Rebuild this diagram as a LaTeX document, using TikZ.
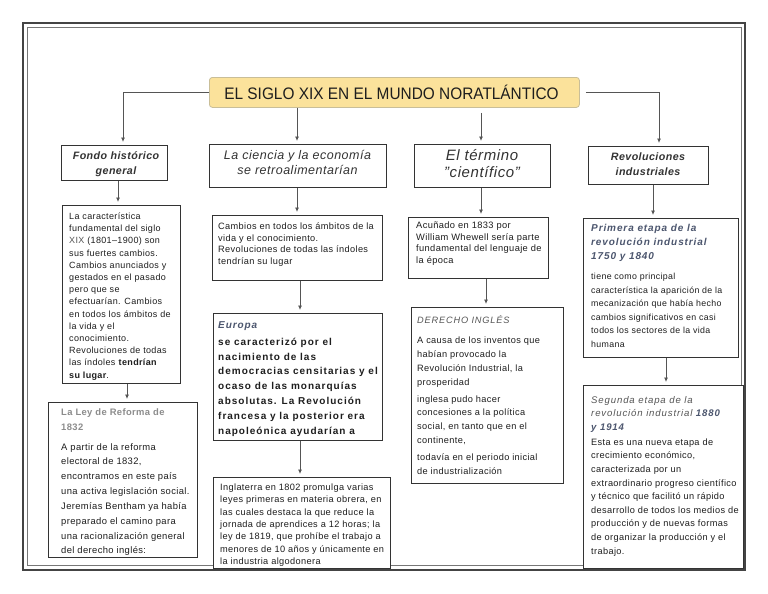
\documentclass[tikz,border=0pt]{standalone}
\usepackage{fontspec}
\setmainfont{Liberation Sans}[LetterSpace=4]
\newfontfamily\plainfont{Liberation Sans}
\newfontfamily\spacedfont[LetterSpace=9]{Liberation Sans}
\newfontfamily\wideboldfont[LetterSpace=10]{Liberation Sans}
\usetikzlibrary{arrows.meta}
\definecolor{framec}{HTML}{444444}
\definecolor{framein}{HTML}{777777}
\definecolor{boxc}{HTML}{333333}
\definecolor{titlefill}{HTML}{FBE29B}
\definecolor{titledraw}{HTML}{C9BE98}
\definecolor{linkc}{HTML}{555555}
\definecolor{bluegray}{HTML}{4C566E}
\definecolor{lightgray}{HTML}{8C8C8C}
\definecolor{midgray}{HTML}{555555}
\definecolor{txtc}{HTML}{1E1E1E}
\newcommand{\txtblock}[4]{\parbox[t]{#1}{\raggedright\fontsize{#2}{#3}\selectfont\leavevmode #4}}
\tikzset{
  card/.style={draw=boxc, line width=1.1pt, fill=white, anchor=north west, inner sep=0pt},
  head/.style={align=center, text=boxc, inner sep=0pt},
  body/.style={anchor=base west, inner sep=0pt, text=txtc},
  link/.style={draw=linkc, line width=0.8pt, -{Latex[length=4.5pt,width=4pt]}, shorten >=3pt},
}
\begin{document}
\begin{tikzpicture}[x=1pt,y=-1pt]
\useasboundingbox (0,0) rectangle (768,594);
\fill[white] (0,0) rectangle (768,594);
% frame
\draw[framec, line width=1.2pt] (23,23) rectangle (745,570);
\draw[framein, line width=0.8pt] (27,27) rectangle (741,565);

% title
\node[draw=titledraw, fill=titlefill, line width=0.8pt, rounded corners=3pt, anchor=north west,
      minimum width=370pt, minimum height=30pt, inner sep=0pt] (title) at (209,77) {};
\node[inner sep=0pt, text=txtc] (titletext) at (391.5,92) {\plainfont\fontsize{15.4}{18}\selectfont\scalebox{1}[1.08]{EL SIGLO XIX EN EL MUNDO NORATLÁNTICO}};

% headings
\node[card, minimum width=106pt, minimum height=35pt] (fondo) at (61,145) {};
\node[head, font=\fontsize{10.7}{15}\selectfont\bfseries\itshape] (fondot) at (116,164) {Fondo histórico\\ general};
\node[card, minimum width=177pt, minimum height=43pt] (ciencia) at (209,144) {};
\node[head, font=\fontsize{12.5}{14.5}\selectfont\itshape] (cienciat) at (297.5,162.5) {La ciencia y la economía\\ se retroalimentarían};
\node[card, minimum width=136pt, minimum height=43pt] (termino) at (414,144) {};
\node[head, font=\fontsize{15}{17}\selectfont\itshape] (terminot) at (482,164) {El término\\ "científico"};
\node[card, minimum width=120pt, minimum height=38pt] (revol) at (588,146) {};
\node[head, font=\fontsize{10.7}{15}\selectfont\bfseries\itshape] (revolt) at (648,164) {Revoluciones\\ industriales};

% column 1
\node[card, minimum width=118pt, minimum height=178pt] (carac) at (62,205) {};
\node[body] (caract) at (69,219.5) {\txtblock{110pt}{9}{12.2}{La característica\\
fundamental del siglo\\
{\color{midgray}XIX} (1801–1900) son\\
sus fuertes cambios.\\
Cambios anunciados y\\
gestados en el pasado\\
pero que se\\
efectuarían. Cambios\\
en todos los ámbitos de\\
la vida y el\\
conocimiento.\\
Revoluciones de todas\\
las índoles \textbf{tendrían}\\
\textbf{su lugar}.}};
\node[card, minimum width=149pt, minimum height=155pt] (ley) at (48,402) {};
\node[body] (leyt) at (61,415.5) {\txtblock{134pt}{9.4}{14.6}{{\color{lightgray}\bfseries La Ley de Reforma de\\ 1832}\\[5.5pt]
A partir de la reforma\\
electoral de 1832,\\
encontramos en este país\\
una activa legislación social.\\[1.3pt]
Jeremías Bentham ya había\\
preparado el camino para\\
una racionalización general\\
del derecho inglés:}};

% column 2
\node[card, minimum width=170pt, minimum height=65pt] (cambios) at (212,215) {};
\node[body] (cambiost) at (218,229.5) {\txtblock{162pt}{9.2}{11.7}{Cambios en todos los ámbitos de la\\
vida y el conocimiento.\\
Revoluciones de todas las índoles\\
tendrían su lugar}};
\node[card, minimum width=169pt, minimum height=127pt] (europa) at (213,313) {};
\node[body] (europat) at (218,328.5) {\txtblock{163pt}{10}{14.8}{{\spacedfont\bfseries\itshape\color{bluegray}Europa}\\[2pt]
\wideboldfont\bfseries se caracterizó por el\\
nacimiento de las\\
democracias censitarias y el\\
ocaso de las monarquías\\
absolutas. La Revolución\\
francesa y la posterior era\\
napoleónica ayudarían a}};
\node[card, minimum width=177pt, minimum height=91pt] (ingl) at (213,477) {};
\node[body] (inglt) at (220,490.5) {\txtblock{170pt}{9.2}{12.3}{Inglaterra en 1802 promulga varias\\
leyes primeras en materia obrera, en\\
las cuales destaca la que reduce la\\
jornada de aprendices a 12 horas; la\\
ley de 1819, que prohíbe el trabajo a\\
menores de 10 años y únicamente en\\
la industria algodonera}};

% column 3
\node[card, minimum width=140pt, minimum height=61pt] (acun) at (408,217) {};
\node[body] (acunt) at (416,228.5) {\txtblock{132pt}{9.3}{11.7}{Acuñado en 1833 por\\
William Whewell sería parte\\
fundamental del lenguaje de\\
la época}};
\node[card, minimum width=152pt, minimum height=176pt] (derecho) at (411,307) {};
\node[body] (derechot) at (417,323.5) {\txtblock{144pt}{9.2}{13.8}{{\spacedfont\itshape\color{midgray}DERECHO INGLÉS}\\[6.5pt]
A causa de los inventos que\\
habían provocado la\\
Revolución Industrial, la\\
prosperidad\\[3pt]
inglesa pudo hacer\\
concesiones a la política\\
social, en tanto que en el\\
continente,\\[3pt]
todavía en el periodo inicial\\
de industrialización}};

% column 4
\node[card, minimum width=155pt, minimum height=139pt] (primera) at (583,218) {};
\node[body] (primerat) at (591,231.5) {\txtblock{145pt}{8.8}{13.5}{{\fontsize{10}{14}\selectfont\spacedfont\bfseries\itshape\color{bluegray}Primera etapa de la\\ revolución industrial\\ 1750 y 1840}\\[7pt]
tiene como principal\\
característica la aparición de la\\
mecanización que había hecho\\
cambios significativos en casi\\
todos los sectores de la vida\\
humana}};
\node[card, minimum width=160pt, minimum height=183pt] (segunda) at (583,385) {};
\node[body] (segundat) at (591,403.5) {\txtblock{150pt}{9.2}{13.6}{{\fontsize{9.6}{13}\selectfont\spacedfont\itshape\color{midgray}Segunda etapa de la\\ revolución industrial \textbf{\color{bluegray}1880}\\ \textbf{\color{bluegray}y 1914}}\\[1.5pt]
Esta es una nueva etapa de\\
crecimiento económico,\\
caracterizada por un\\
extraordinario progreso científico\\
y técnico que facilitó un rápido\\
desarrollo de todos los medios de\\
producción y de nuevas formas\\
de organizar la producción y el\\
trabajo.}};

% connectors
\coordinate (ca) at (123,0);
\coordinate (cb) at (297,0);
\coordinate (cc) at (481,0);
\coordinate (cd) at (659,0);
\draw[link] (title.west) -| (ca |- fondo.north);
\draw[link] (cb |- title.south) -- (cb |- ciencia.north);
\draw[link, shorten <=5pt] (cc |- title.south) -- (cc |- termino.north);
\draw[link, shorten <=6pt] (title.east) -| (cd |- revol.north);

\coordinate (c1) at (118,0);
\coordinate (c2) at (127,0);
\coordinate (c3) at (297,0);
\coordinate (c4) at (300,0);
\coordinate (c5) at (481,0);
\coordinate (c6) at (486,0);
\coordinate (c7) at (653,0);
\coordinate (c8) at (666,0);
\draw[link] (c1 |- fondo.south) -- (c1 |- carac.north);
\draw[link] (c2 |- carac.south) -- (c2 |- ley.north);
\draw[link] (c3 |- ciencia.south) -- (c3 |- cambios.north);
\draw[link] (c4 |- cambios.south) -- (c4 |- europa.north);
\draw[link] (c4 |- europa.south) -- (c4 |- ingl.north);
\draw[link] (c5 |- termino.south) -- (c5 |- acun.north);
\draw[link] (c6 |- acun.south) -- (c6 |- derecho.north);
\draw[link] (c7 |- revol.south) -- (c7 |- primera.north);
\draw[link] (c8 |- primera.south) -- (c8 |- segunda.north);
\end{tikzpicture}
\end{document}
